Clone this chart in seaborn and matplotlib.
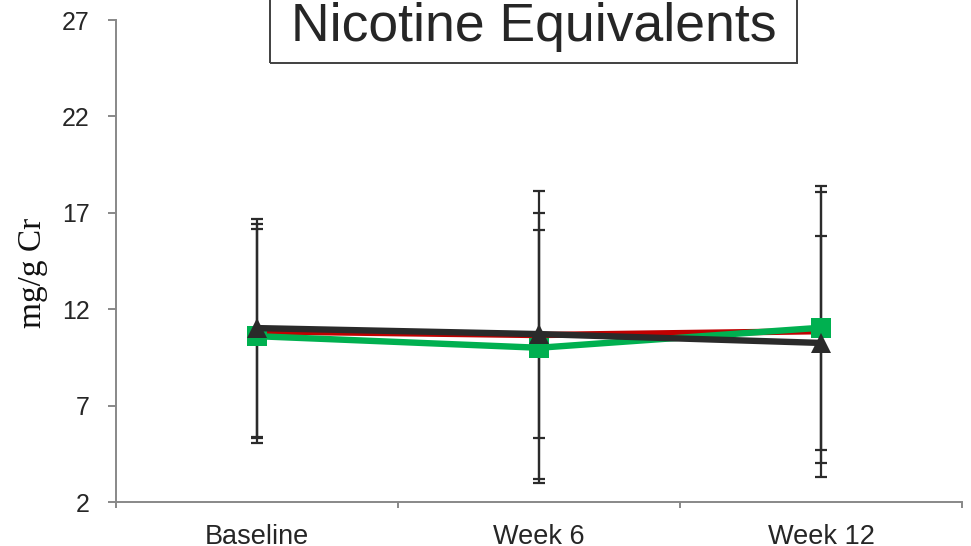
import numpy as np
import pandas as pd
import matplotlib
matplotlib.use("Agg")
import matplotlib.pyplot as plt
from matplotlib.patches import Rectangle
import seaborn as sns

# ---- data ----
visits = ["Baseline", "Week 6", "Week 12"]
groups = ["Group A", "Group B", "Group C"]
red_mean = [10.85, 10.66, 10.86]
red_sd = [5.55, 7.45, 7.55]
green_mean = [10.6, 10.0, 11.04]
green_sd = [5.56, 7.0, 7.03]
black_mean = [11.02, 10.71, 10.25]
black_sd = [5.65, 5.38, 5.56]
yticks = [2, 7, 12, 17, 22, 27]
title = "Nicotine Equivalents"
ylabel = "mg/g Cr"

colors = {"Group A": "#C00000", "Group B": "#00B050", "Group C": "#2a2a2a"}
markers = {"Group B": "s", "Group C": "^"}

pos = np.arange(len(visits))
df = pd.concat([
    pd.DataFrame({"pos": pos, "value": m, "sd": s, "group": g})
    for g, m, s in zip(groups, [red_mean, green_mean, black_mean],
                       [red_sd, green_sd, black_sd])
], ignore_index=True)

sns.set_theme(style="white")
plt.rcParams["font.family"] = ["Liberation Sans", "DejaVu Sans"]

W, H = 971, 546
fig = plt.figure(figsize=(W / 100, H / 100), dpi=100)
ax = fig.add_axes([116 / W, (H - 502) / H, (962 - 116) / W, (502 - 20) / H])

# error bars
for g in groups:
    sub = df[df.group == g]
    ax.errorbar(sub["pos"], sub["value"], yerr=sub["sd"], fmt="none",
                ecolor="#2b2b2b", elinewidth=1.6, capsize=4.3, capthick=1.6,
                zorder=1)

# red series: plain line
sns.lineplot(data=df[df.group == "Group A"], x="pos", y="value",
             color=colors["Group A"], linewidth=4.6, legend=False,
             sort=False, ax=ax, zorder=3)
# green and black with markers
sub = df[df.group != "Group A"]
sns.lineplot(data=sub, x="pos", y="value", hue="group", style="group",
             hue_order=groups[1:], style_order=groups[1:], palette=colors,
             markers=markers, dashes=False, linewidth=4.6, markersize=15,
             markeredgewidth=0, legend=False, sort=False, ax=ax, zorder=3)

ax.set_xlim(-0.5, len(visits) - 0.5)
ax.set_ylim(yticks[0], yticks[-1])
ax.set_yticks(yticks)
ax.set_xticks(pos)
ax.set_xticklabels(visits)
ax.set_xticks(np.arange(-0.5, len(visits), 1.0), minor=True)
ax.set_xlabel("")
ax.set_ylabel("")

for side in ["top", "right"]:
    ax.spines[side].set_visible(False)
for side in ["left", "bottom"]:
    ax.spines[side].set_color("#888888")
    ax.spines[side].set_linewidth(1.4)

ax.tick_params(axis="y", which="major", direction="out", length=6,
               width=1.4, color="#888888", left=True, labelsize=18,
               labelcolor="#262626", pad=13)
ax.tick_params(axis="x", which="major", length=0, labelsize=19.5,
               labelcolor="#262626", pad=16)
ax.tick_params(axis="x", which="minor", direction="out", length=4,
               width=1.4, color="#888888", bottom=True)

# y label
fig.text(33 / W, 1 - 273 / H, ylabel, rotation=90, ha="center", va="center",
         fontsize=24, family=["Liberation Serif", "DejaVu Serif"],
         color="#111111")

# title box
fig.patches.append(Rectangle((270 / W, (H - 63) / H), (797 - 270) / W, 0.3,
                             transform=fig.transFigure, fill=False,
                             edgecolor="#404040", linewidth=1.4))
fig.text(534 / W, (H - 41) / H, title, ha="center", va="baseline",
         fontsize=38.5, color="#262626")

fig.savefig("out.png", dpi=100)
